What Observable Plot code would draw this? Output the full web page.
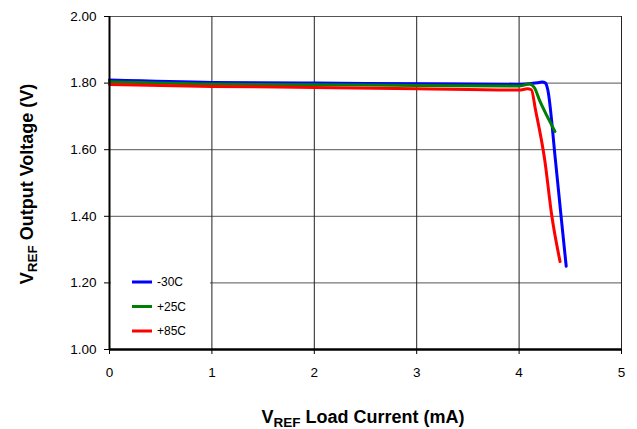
<!DOCTYPE html>
<html>
<head>
<meta charset="utf-8">
<script src="https://cdn.jsdelivr.net/npm/d3@7"></script>
<script src="https://cdn.jsdelivr.net/npm/@observablehq/plot@0.6"></script>
<style>
  html, body { margin: 0; padding: 0; background: #fff; }
  #chart { width: 637px; height: 429px; }
</style>
</head>
<body>
<div id="chart"></div>
<script>
// Load current (mA) and output voltage (V) per temperature series
const seriesNames = ["-30C", "+25C", "+85C"];
const seriesColors = ["#0000ff", "#008000", "#ff0000"];

const currentM30 = [0, 1, 2, 3, 4, 4.1, 4.18, 4.225, 4.258, 4.28, 4.355, 4.41, 4.46];
const voltageM30 = [1.809, 1.802, 1.800, 1.798, 1.796, 1.798, 1.801, 1.803, 1.800, 1.780, 1.568, 1.40, 1.25];

const currentP25 = [0, 1, 2, 3, 4, 4.1, 4.15, 4.2, 4.27, 4.35];
const voltageP25 = [1.804, 1.797, 1.795, 1.793, 1.791, 1.797, 1.786, 1.748, 1.703, 1.655];

const currentP85 = [0, 1, 2, 3, 4, 4.08, 4.12, 4.16, 4.25, 4.32, 4.40];
const voltageP85 = [1.796, 1.790, 1.787, 1.783, 1.779, 1.783, 1.780, 1.72, 1.57, 1.40, 1.264];

const xTicks = [0, 1, 2, 3, 4, 5];
const yTicks = [1.00, 1.20, 1.40, 1.60, 1.80, 2.00];

const rows = [];
[[currentM30, voltageM30], [currentP25, voltageP25], [currentP85, voltageP85]].forEach(([xs, ys], i) => {
  xs.forEach((x, j) => rows.push({series: seriesNames[i], current: x, voltage: ys[j]}));
});

const font = "'Liberation Sans', Arial, Helvetica, sans-serif";

const plot = Plot.plot({
  width: 637,
  height: 429,
  marginLeft: 109,
  marginRight: 16,
  marginTop: 16,
  marginBottom: 80,
  style: {fontFamily: font, fontSize: "13.5px", color: "#000", background: "#fff"},
  x: {domain: [0, 5], label: null},
  y: {domain: [1, 2], label: null},
  color: {domain: seriesNames, range: seriesColors},
  marks: [
    Plot.ruleY(yTicks.slice(1), {stroke: "#555", strokeWidth: 1}),
    Plot.ruleX(xTicks.slice(1), {stroke: "#222", strokeWidth: 1}),
    Plot.axisY({ticks: yTicks, tickFormat: d => d.toFixed(2), tickSize: 5, tickPadding: 8, stroke: "#000", label: null, fontSize: 13.5}),
    Plot.axisX({ticks: xTicks, tickFormat: d => String(d), tickSize: 5, tickPadding: 13, stroke: "#000", label: null, fontSize: 13.5}),
    Plot.line(rows, {x: "current", y: "voltage", z: "series", stroke: "series", strokeWidth: 3, curve: "monotone-x"}),
    Plot.ruleX([0], {stroke: "#000", strokeWidth: 2}),
    Plot.ruleY([1], {stroke: "#000", strokeWidth: 2.5})
  ]
});

document.getElementById("chart").appendChild(plot);

const svg = d3.select(plot);

// Legend inside the plot area
const lg = svg.append("g").attr("font-family", font).attr("font-size", 12).attr("text-anchor", "start");
lg.append("rect").attr("x", 111).attr("y", 266).attr("width", 99).attr("height", 80).attr("fill", "#fff");
seriesNames.forEach((name, i) => {
  const yy = 282 + i * 24.5;
  lg.append("line").attr("x1", 132).attr("x2", 152).attr("y1", yy).attr("y2", yy)
    .attr("stroke", seriesColors[i]).attr("stroke-width", 3);
  lg.append("text").attr("x", 157).attr("y", yy).attr("dy", "0.35em").attr("text-anchor", "start").text(name);
});

// Axis titles with subscripts
const yt = svg.append("text")
  .attr("transform", "translate(33,184) rotate(-90)")
  .attr("text-anchor", "middle")
  .attr("font-family", font).attr("font-weight", "bold").attr("font-size", 18);
yt.append("tspan").text("V");
yt.append("tspan").attr("dy", 4).attr("font-size", 13.5).text("REF");
yt.append("tspan").attr("dy", -4).text(" Output Voltage (V)");

const xt = svg.append("text")
  .attr("x", 363).attr("y", 423)
  .attr("text-anchor", "middle")
  .attr("font-family", font).attr("font-weight", "bold").attr("font-size", 18);
xt.append("tspan").text("V");
xt.append("tspan").attr("dy", 4).attr("font-size", 13.5).text("REF");
xt.append("tspan").attr("dy", -4).text(" Load Current (mA)");
</script>
</body>
</html>
